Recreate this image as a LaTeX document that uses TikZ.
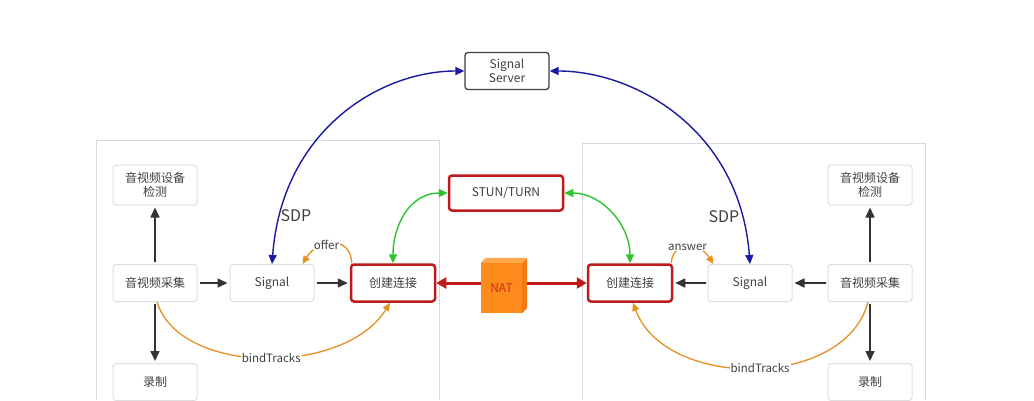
\documentclass[tikz,border=0pt]{standalone}
\usepackage{fontspec}
\setmainfont{Noto Sans CJK SC}
\usetikzlibrary{arrows.meta}
\definecolor{txt}{HTML}{404040}
\definecolor{boxline}{HTML}{DEDEDE}
\definecolor{frame}{HTML}{D9D9D9}
\definecolor{redc}{HTML}{BE1C1C}
\definecolor{bluec}{HTML}{1A1AA0}
\definecolor{greenc}{HTML}{2EC42E}
\definecolor{orangec}{HTML}{E8901F}
\definecolor{natfront}{HTML}{FF8A1C}
\definecolor{nattop}{HTML}{FFA84D}
\definecolor{natside}{HTML}{F27A0E}
\definecolor{blackc}{HTML}{333333}
\tikzset{
  box/.style={draw=boxline, line width=1pt, rounded corners=3pt, fill=white, text=txt,
    font=\fontsize{12}{14}\selectfont, minimum width=84pt, minimum height=37pt,
    align=center, inner sep=0pt},
  redbox/.style={box, draw=redc, line width=2.5pt},
  serverbox/.style={box, draw=txt, line width=1.3pt},
  blk/.style={draw=blackc, line width=1.6pt, -{Triangle[length=10pt,width=9pt]}, shorten >=2pt, shorten <=2pt},
  blu/.style={draw=bluec, line width=1.4pt, {Triangle[length=9pt,width=8pt]}-{Triangle[length=9pt,width=8pt]}},
  grn/.style={draw=greenc, line width=1.4pt, {Triangle[length=9pt,width=8pt]}-{Triangle[length=9pt,width=8pt]}},
  redarr/.style={draw=redc, line width=3pt, -{Triangle[length=10pt,width=11pt]}},
  org/.style={draw=orangec, line width=1.3pt, -{Triangle[length=8pt,width=7pt]}},
  lbl/.style={fill=white, text=txt, inner sep=1pt, font=\fontsize{11.5}{13}\selectfont},
  sdp/.style={text=txt, inner sep=0pt, font=\fontsize{16}{18}\selectfont},
}
\begin{document}
\begin{tikzpicture}[x=1pt,y=-1pt]
\useasboundingbox (0,0) rectangle (1034,400);
\fill[white] (0,0) rectangle (1034,400);
% containers
\draw[frame, line width=1pt] (96,400) -- (96,140) -- (439,140) -- (439,400);
\draw[frame, line width=1pt] (582,400) -- (582,143) -- (925,143) -- (925,400);
% nodes
\node[serverbox] (server) at (507,71) {Signal\\Server};
\node[box, minimum height=40pt] (detL) at (155,185) {音视频设备\\检测};
\node[box] (acqL) at (155,283) {音视频采集};
\node[box] (recL) at (155,382) {录制};
\node[box] (sigL) at (272,283) {Signal};
\node[redbox] (cjL) at (393,283) {创建连接};
\node[redbox, minimum width=114pt, minimum height=35pt] (stun) at (506,193) {STUN/TURN};
\node[redbox] (cjR) at (630,283) {创建连接};
\node[box] (sigR) at (750,283) {Signal};
\node[box] (acqR) at (870,283) {音视频采集};
\node[box, minimum height=40pt] (detR) at (870,185) {音视频设备\\检测};
\node[box] (recR) at (870,382) {录制};
% NAT cuboid
\node[fill=natfront, minimum width=41pt, minimum height=50pt, inner sep=0pt,
      text=redc!80!orange, font=\fontsize{12}{14}\selectfont] (nat) at (501.5,288) {NAT};
\fill[nattop] (nat.north west) -- ++(5,-5) -- ++(41,0) -- (nat.north east) -- cycle;
\fill[natside] (nat.north east) -- ++(5,-5) -- ++(0,50) -- (nat.south east) -- cycle;
\coordinate (natL) at (nat.west |- cjL.east);
\coordinate (natR) at ([xshift=5pt]nat.east |- cjR.west);
% black arrows
\draw[blk] (acqL) -- (sigL);
\draw[blk] (sigL) -- (cjL);
\draw[blk] (acqL) -- (detL);
\draw[blk] (acqL) -- (recL);
\draw[blk] (acqR) -- (sigR);
\draw[blk] (sigR) -- (cjR);
\draw[blk] (acqR) -- (detR);
\draw[blk] (acqR) -- (recR);
% red arrows
\draw[redarr] (natL) -- (cjL.east);
\draw[redarr] (natR) -- (cjR.west);
% blue arrows
\draw[blu] (sigL.north) .. controls (282,130) and (380,71) .. (server.west);
\draw[blu] (server.east) .. controls (635,71) and (740,130) .. (sigR.north);
\node[sdp] (sdpL) at (296,216) {SDP};
\node[sdp] (sdpR) at (724,217) {SDP};
% green arrows
\draw[grn] (stun.west) .. controls (410,193) and (393,225) .. (cjL.north);
\draw[grn] (stun.east) .. controls (602,193) and (630,225) .. (cjR.north);
% orange
\draw[org] ([xshift=2pt]cjL.north west) .. controls +(-1,-28) and +(16,-26) .. ([xshift=-12pt]sigL.north east)
  node[lbl, pos=0.6] {offer};
\draw[org] ([xshift=-2pt]cjR.north east) .. controls +(1,-22) and +(-14,-22) .. ([xshift=6pt]sigR.north west)
  node[lbl, pos=0.5] {answer};
\draw[org] ([xshift=2pt]acqL.south) .. controls (180,376) and (345,376) .. ([xshift=-3pt]cjL.south)
  node[lbl, pos=0.52] {bindTracks};
\draw[org] ([xshift=-2pt]acqR.south) .. controls (845,390) and (665,390) .. ([xshift=3pt]cjR.south)
  node[lbl, pos=0.48] {bindTracks};
\end{tikzpicture}
\end{document}
